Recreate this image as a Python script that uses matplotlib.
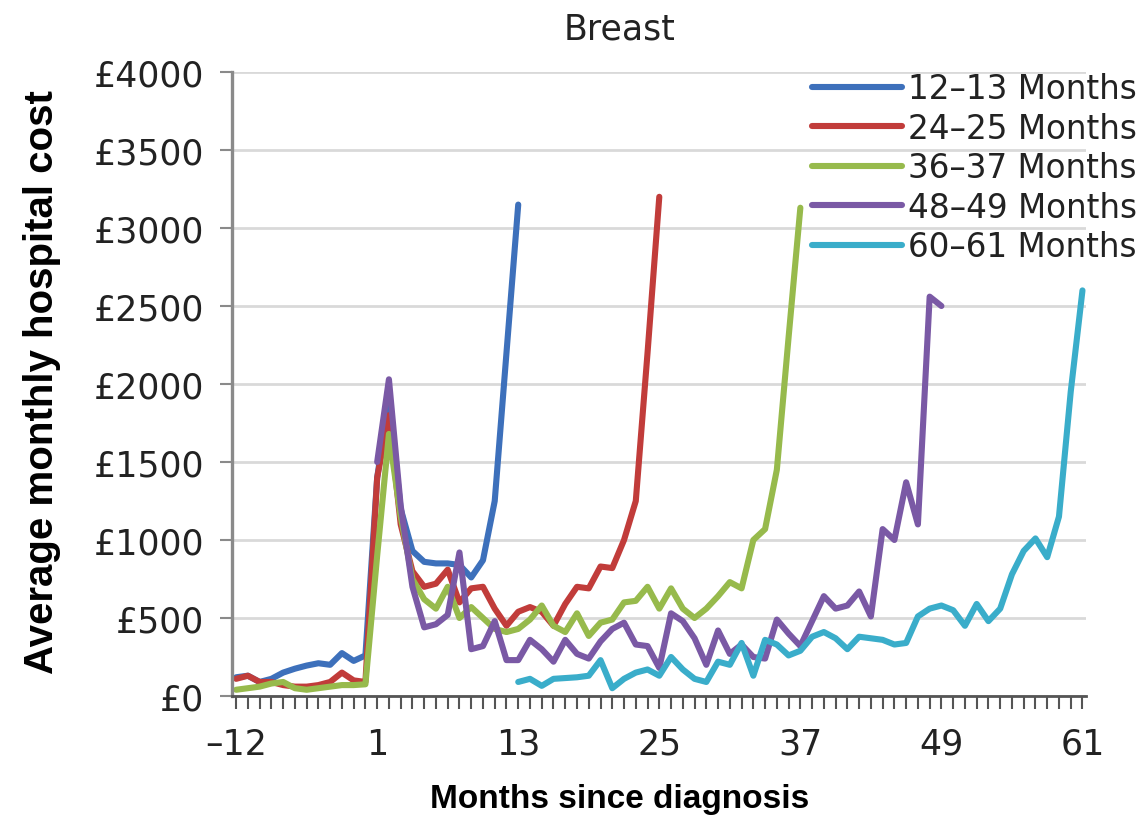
import matplotlib
matplotlib.use("Agg")
import matplotlib.pyplot as plt
from matplotlib.ticker import FuncFormatter

# months on the category axis (no month 0)
months = list(range(-12, 0)) + list(range(1, 62))

labels = ["12\u201313 Months", "24\u201325 Months", "36\u201337 Months",
          "48\u201349 Months", "60\u201361 Months"]
starts = [-12, -12, -12, 1, 13]
colores = ["#3d70bb", "#c13c3a", "#97ba4c", "#7a59a5", "#3aadca"]

m12_13 = [120, 130, 90, 110, 150, 175, 195, 210, 200, 275, 225, 260,
          1400, 1900, 1200, 930, 860, 850, 850, 840, 760, 870, 1250, 2200, 3150]
m24_25 = [110, 130, 90, 90, 70, 60, 60, 70, 90, 150, 100, 90,
          1400, 1800, 1100, 800, 700, 720, 810, 600, 690, 700, 560, 450, 540,
          570, 540, 450, 590, 700, 690, 830, 820, 1000, 1250, 2200, 3200]
m36_37 = [40, 50, 60, 80, 90, 50, 40, 50, 60, 70, 70, 75,
          900, 1680, 1150, 750, 620, 560, 700, 500, 570, 500, 430, 410, 430,
          490, 580, 450, 410, 530, 385, 470, 490, 600, 610, 700, 560, 690,
          560, 500, 560, 640, 730, 690, 1000, 1070, 1450, 2300, 3130]
m48_49 = [1500, 2030, 1220, 700, 440, 460, 520, 920, 300, 320, 480, 230,
          230, 360, 300, 220, 360, 270, 240, 350, 430, 470, 330, 320, 180,
          530, 480, 370, 200, 420, 270, 330, 250, 240, 490, 400, 320, 480,
          640, 560, 580, 670, 510, 1070, 1000, 1370, 1100, 2560, 2500]
m60_61 = [90, 110, 65, 110, 115, 120, 130, 230, 50, 110, 150, 170, 130,
          250, 170, 110, 90, 220, 200, 340, 130, 360, 330, 260, 290, 380,
          410, 370, 300, 380, 370, 360, 330, 340, 510, 560, 580, 550, 450,
          590, 480, 560, 780, 930, 1010, 890, 1150, 1950, 2600]

series = [m12_13, m24_25, m36_37, m48_49, m60_61]

xtick_months = [-12, 1, 13, 25, 37, 49, 61]
xtick_labels = ["\u201312", "1", "13", "25", "37", "49", "61"]
yticks = [0, 500, 1000, 1500, 2000, 2500, 3000, 3500, 4000]

fig = plt.figure(figsize=(11.37, 8.2), dpi=100)
ax = fig.add_axes([232 / 1137, 1 - 697 / 820, (1086 - 232) / 1137, (697 - 73) / 820])

for vals, s, lab, c in zip(series, starts, labels, colores):
    i0 = months.index(s)
    xs = list(range(i0, i0 + len(vals)))
    ax.plot(xs, vals, color=c, lw=4.4, label=lab, solid_joinstyle="round",
            solid_capstyle="round")

ax.set_xlim(-0.35, len(months) - 1 + 0.3)
ax.set_ylim(0, 4000)
ax.set_yticks(yticks)
ax.yaxis.set_major_formatter(FuncFormatter(lambda v, p: "\u00a3%d" % v))
ax.set_xticks(range(len(months)), minor=True)
ax.set_xticks([months.index(m) for m in xtick_months])
ax.set_xticklabels(xtick_labels)

ax.grid(axis="y", color="#d9d9d9", lw=2)
ax.set_axisbelow(True)
for sp in ["top", "right"]:
    ax.spines[sp].set_visible(False)
ax.spines["left"].set_color("#8a8a8a")
ax.spines["left"].set_linewidth(2.4)
ax.spines["bottom"].set_color("#555555")
ax.spines["bottom"].set_linewidth(2)

ax.tick_params(axis="y", length=9, width=1.5, color="#8a8a8a", pad=11,
               labelsize=25, labelcolor="#222222")
ax.tick_params(axis="x", which="both", length=9, width=1.5, color="#555555",
               pad=13, labelsize=25, labelcolor="#222222")

leg = ax.legend(loc="upper left", bbox_to_anchor=(812 / 1137, 1 - 73 / 820),
                bbox_transform=fig.transFigure, frameon=False, fontsize=23.5,
                handlelength=2.75, handletextpad=0.2, labelspacing=0.2,
                borderpad=0, borderaxespad=0)
for t in leg.get_texts():
    t.set_color("#222222")

fig.text(620 / 1137, 1 - 30 / 820, "Breast", ha="center", va="center",
         fontsize=25, color="#222222")
fig.text(620 / 1137, 1 - 800 / 820, "Months since diagnosis", ha="center",
         va="center", fontsize=24, fontweight="bold",
         family=["Liberation Sans Narrow", "Liberation Sans"])
fig.text(42 / 1137, 1 - 382 / 820, "Average monthly hospital cost", ha="center",
         va="center", rotation=90, fontsize=29, fontweight="bold",
         family=["Liberation Sans Narrow", "Liberation Sans"])

fig.savefig("out.png", dpi=100)
